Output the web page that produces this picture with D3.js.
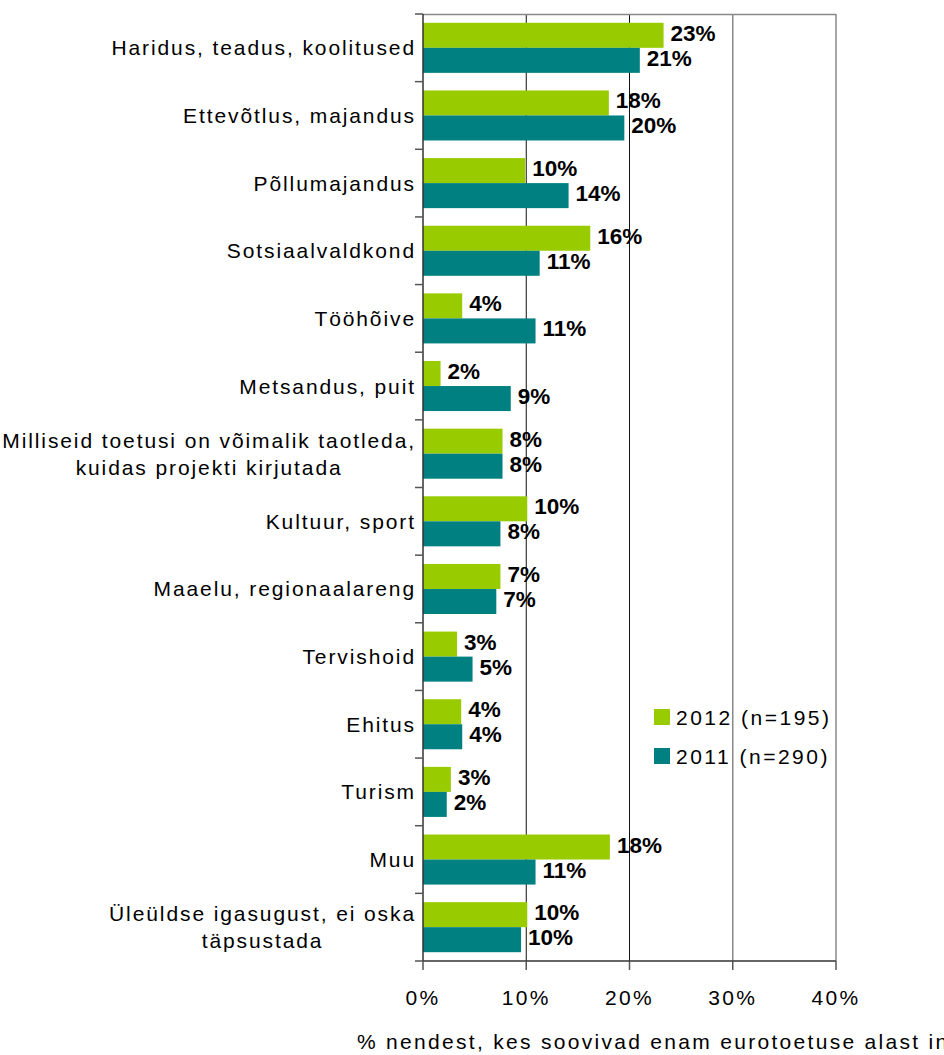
<html>
<head>
<meta charset="utf-8">
<script src="https://d3js.org/d3.v7.min.js"></script>
<style>
body { margin: 0; background: #fff; }
svg { display: block; font-family: "Liberation Sans", Arial, sans-serif; }
</style>
</head>
<body>
<svg id="chart" width="944" height="1055"></svg>
<script>
  // data
  var categories = [
    ["Haridus, teadus, koolitused"],
    ["Ettevõtlus, majandus"],
    ["Põllumajandus"],
    ["Sotsiaalvaldkond"],
    ["Tööhõive"],
    ["Metsandus, puit"],
    ["Milliseid toetusi on võimalik taotleda,", "kuidas projekti kirjutada"],
    ["Kultuur, sport"],
    ["Maaelu, regionaalareng"],
    ["Tervishoid"],
    ["Ehitus"],
    ["Turism"],
    ["Muu"],
    ["Üleüldse igasugust, ei oska", "täpsustada"]
  ];
  var values2012 = [23.3, 18.0, 9.9, 16.2, 3.8, 1.7, 7.7, 10.1, 7.5, 3.3, 3.7, 2.7, 18.1, 10.1];
  var values2011 = [21.0, 19.5, 14.1, 11.3, 10.9, 8.5, 7.7, 7.5, 7.1, 4.8, 3.8, 2.3, 10.9, 9.5];
  var labels2012 = ["23%", "18%", "10%", "16%", "4%", "2%", "8%", "10%", "7%", "3%", "4%", "3%", "18%", "10%"];
  var labels2011 = ["21%", "20%", "14%", "11%", "11%", "9%", "8%", "8%", "7%", "5%", "4%", "2%", "11%", "10%"];
  var seriesNames = ["2012 (n=195)", "2011 (n=290)"];
  var seriesKeys = ["2012", "2011"];
  var xTicks = [0, 10, 20, 30, 40];
  var axisTitle = "% nendest, kes soovivad enam eurotoetuse alast informatsiooni";

  var colors = {"2012": "#99cc00", "2011": "#008080"};

  var pLeft = 423, pRight = 836, pTop = 14, pBottom = 961;
  var fs = 21, ls = 1.9;
  var svg = d3.select("#chart");

  var x = d3.scaleLinear().domain([0, 40]).range([pLeft, pRight]);
  var y = d3.scaleBand()
    .domain(d3.range(categories.length))
    .range([pTop, pBottom])
    .paddingInner(0.26)
    .paddingOuter(0.13);
  var ySub = d3.scaleBand().domain(seriesKeys).range([0, y.bandwidth()]);

  var rows = categories.map(function(c, i) {
    return {i: i, lines: c, "2012": values2012[i], "2011": values2011[i],
            l2012: labels2012[i], l2011: labels2011[i]};
  });

  // gridlines + frame
  svg.append("g").selectAll("line")
    .data(xTicks.slice(1))
    .enter().append("line")
    .attr("x1", d => x(d)).attr("x2", d => x(d))
    .attr("y1", pTop).attr("y2", pBottom)
    .attr("stroke", d => d >= 30 ? "#888" : "#111")
    .attr("stroke-width", d => d >= 30 ? 1.5 : 1);
  svg.append("line")
    .attr("x1", pLeft).attr("x2", pRight).attr("y1", pTop + 0.5).attr("y2", pTop + 0.5)
    .attr("stroke", "#888").attr("stroke-width", 1.5);

  // bars
  var g = svg.append("g").selectAll("g")
    .data(rows).enter().append("g")
    .attr("transform", d => "translate(0," + y(d.i) + ")");

  seriesKeys.forEach(function(k) {
    g.append("rect")
      .attr("x", x(0))
      .attr("y", ySub(k))
      .attr("width", d => x(d[k]) - x(0))
      .attr("height", ySub.bandwidth())
      .attr("fill", colors[k]);
  });
  seriesKeys.forEach(function(k) {
    g.append("text")
      .attr("x", d => x(d[k]) + 7)
      .attr("y", ySub(k) + ySub.bandwidth() / 2 - 2)
      .attr("dominant-baseline", "central")
      .attr("font-size", 22.5)
      .attr("font-weight", "bold")
      .attr("fill", "#000")
      .text(d => d["l" + k]);
  });

  // y axis
  svg.append("line")
    .attr("x1", pLeft).attr("x2", pLeft).attr("y1", pTop).attr("y2", pBottom)
    .attr("stroke", "#333").attr("stroke-width", 1.5);
  var boundaries = d3.range(categories.length + 1).map(i => pTop + i * y.step());
  svg.append("g").selectAll("line")
    .data(boundaries).enter().append("line")
    .attr("x1", pLeft - 8).attr("x2", pLeft)
    .attr("y1", d => d).attr("y2", d => d)
    .attr("stroke", "#555").attr("stroke-width", 1.5);

  var catLabels = svg.append("g").selectAll("text")
    .data(rows).enter().append("text")
    .attr("font-size", fs)
    .attr("letter-spacing", ls)
    .attr("fill", "#000");
  catLabels.each(function(d) {
    var t = d3.select(this);
    var cy = y(d.i) + y.bandwidth() / 2;
    if (d.lines.length == 1) {
      t.attr("x", 416).attr("y", cy).attr("text-anchor", "end")
        .attr("dominant-baseline", "central").text(d.lines[0]);
    } else {
      t.text(d.lines[0]);
      var w = this.getComputedTextLength();
      t.text(null);
      var cx = 416 - w / 2;
      t.attr("text-anchor", "middle");
      d.lines.forEach(function(line, j) {
        t.append("tspan")
          .attr("x", cx)
          .attr("y", cy + (j - 0.5) * 27)
          .attr("dominant-baseline", "central")
          .text(line);
      });
    }
  });

  // x axis
  svg.append("line")
    .attr("x1", pLeft).attr("x2", pRight).attr("y1", pBottom).attr("y2", pBottom)
    .attr("stroke", "#333").attr("stroke-width", 1.5);
  svg.append("g").selectAll("line")
    .data(xTicks).enter().append("line")
    .attr("x1", d => x(d)).attr("x2", d => x(d))
    .attr("y1", pBottom).attr("y2", pBottom + 9)
    .attr("stroke", "#555").attr("stroke-width", 1.5);
  svg.append("g").selectAll("text")
    .data(xTicks).enter().append("text")
    .attr("x", d => x(d))
    .attr("y", 997)
    .attr("text-anchor", "middle")
    .attr("dominant-baseline", "central")
    .attr("font-size", fs)
    .attr("letter-spacing", 2.4)
    .text(d => d + "%");

  svg.append("text")
    .attr("x", 357)
    .attr("y", 1041)
    .attr("dominant-baseline", "central")
    .attr("font-size", fs)
    .attr("letter-spacing", 2.3)
    .text(axisTitle);

  // legend
  var legend = svg.append("g").selectAll("g")
    .data(seriesKeys).enter().append("g")
    .attr("transform", (d, i) => "translate(654," + (709 + i * 39) + ")");
  legend.append("rect")
    .attr("width", 16).attr("height", 16)
    .attr("fill", d => colors[d]);
  legend.append("text")
    .attr("x", 22).attr("y", 8)
    .attr("dominant-baseline", "central")
    .attr("font-size", fs)
    .attr("letter-spacing", 2.5)
    .text((d, i) => seriesNames[i]);
</script>
</body>
</html>
